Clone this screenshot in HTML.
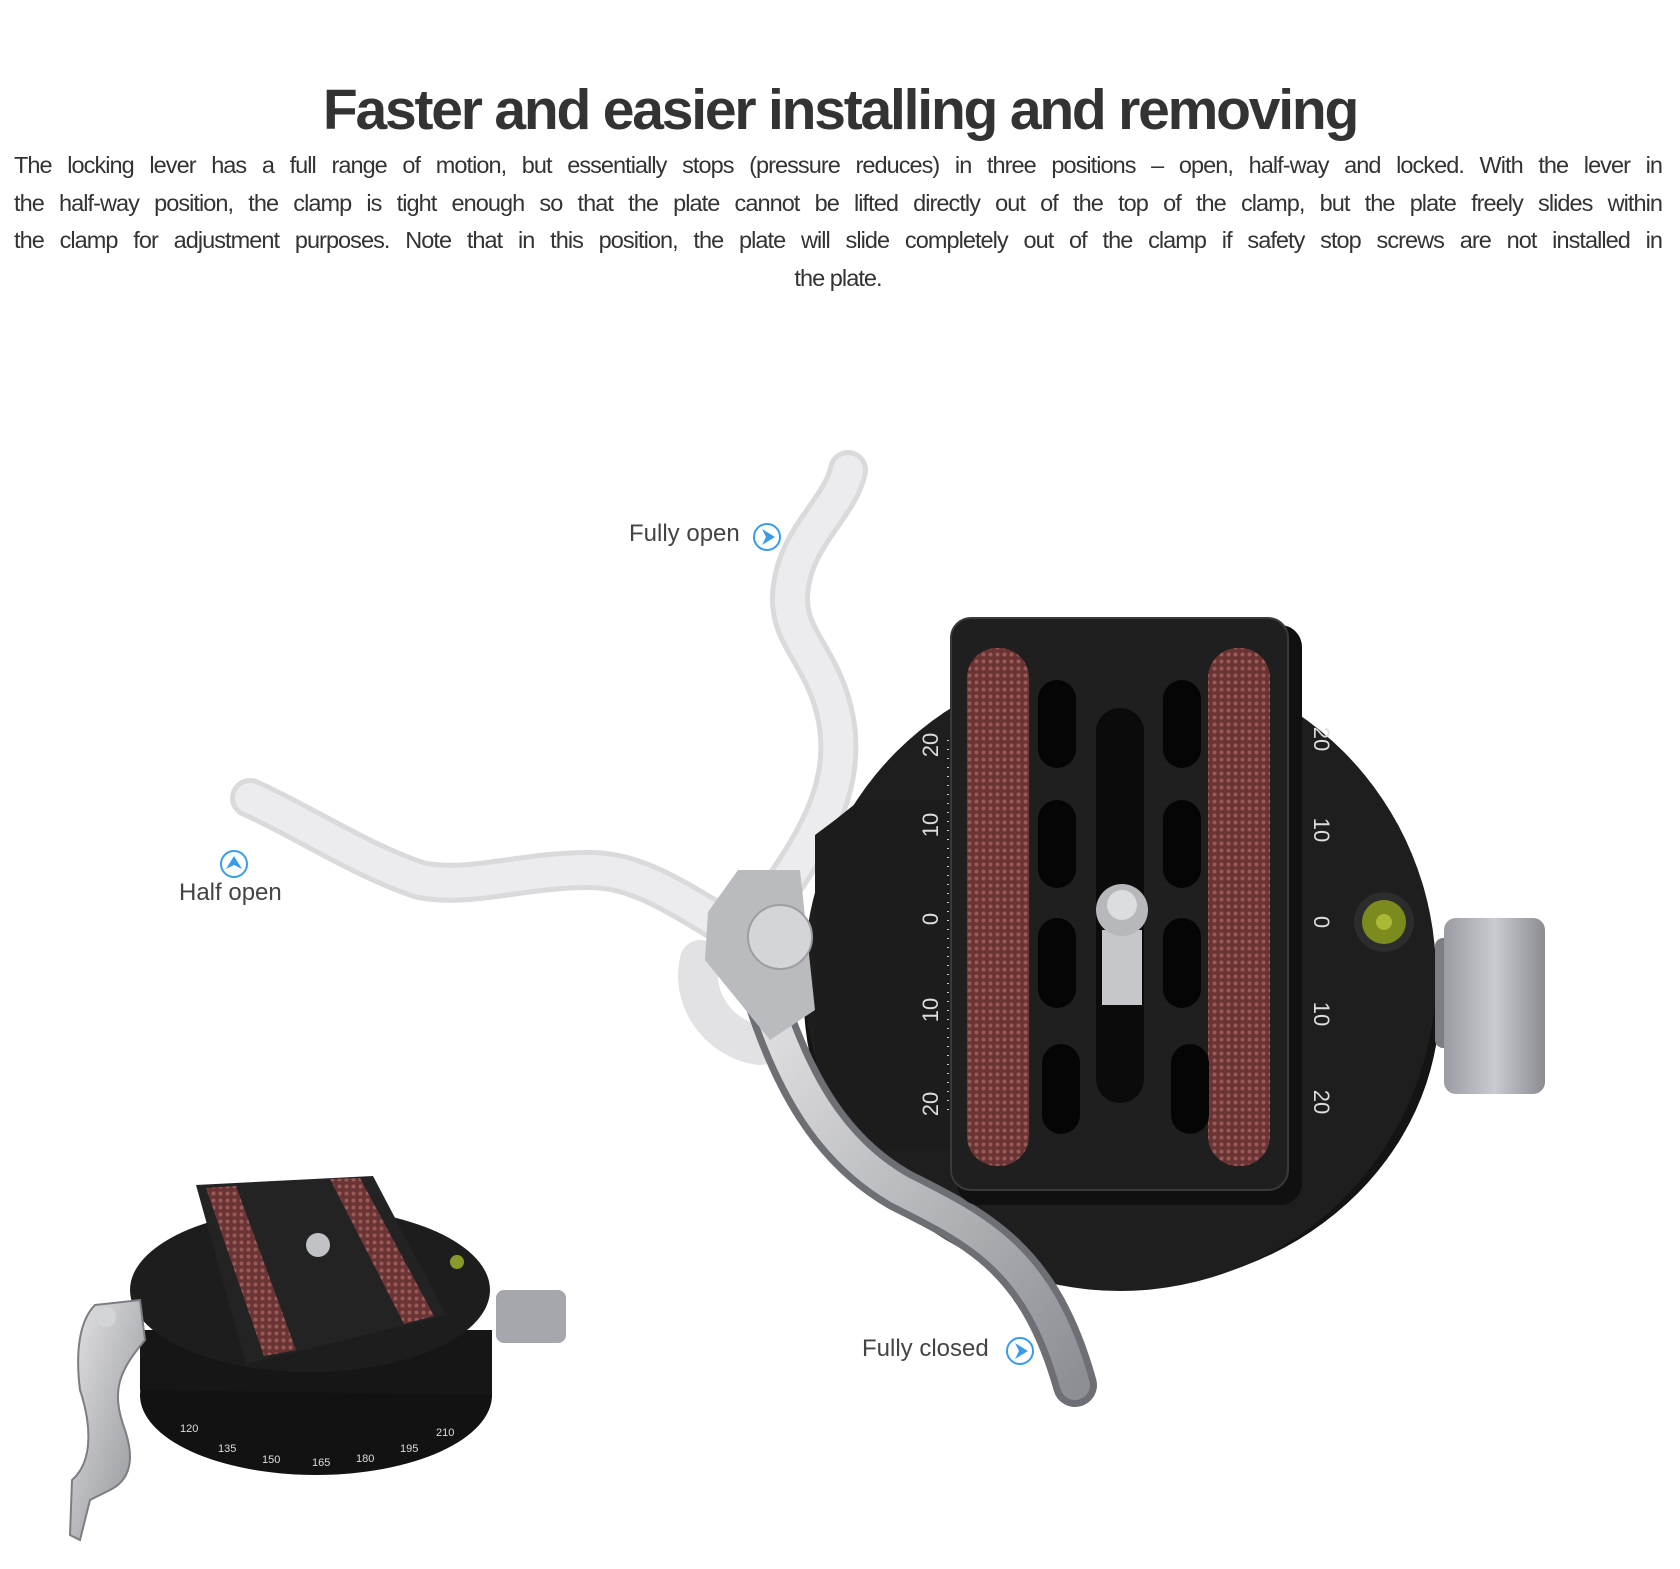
<!DOCTYPE html>
<html><head><meta charset="utf-8">
<style>
html,body{margin:0;padding:0;background:#fff;}
body{width:1680px;height:1569px;position:relative;overflow:hidden;font-family:"Liberation Sans",Arial,sans-serif;}
h1{position:absolute;left:0;width:1680px;top:77px;margin:0;text-align:center;font-size:57px;font-weight:bold;color:#333;letter-spacing:-2.2px;}
.p{position:absolute;left:14px;width:1648px;font-size:23.5px;color:#333;letter-spacing:-0.95px;text-align:justify;text-align-last:justify;line-height:28px}
.lab{position:absolute;font-size:24px;color:#444;}
</style></head><body>
<h1>Faster and easier installing and removing</h1>
<div class="p" style="top:151px">The locking lever has a full range of motion, but essentially stops (pressure reduces) in three positions – open, half-way and locked. With the lever in</div>
<div class="p" style="top:189px">the half-way position, the clamp is tight enough so that the plate cannot be lifted directly out of the top of the clamp, but the plate freely slides within</div>
<div class="p" style="top:226px">the clamp for adjustment purposes. Note that in this position, the plate will slide completely out of the clamp if safety stop screws are not installed in</div>
<div class="p" style="top:264px;text-align:center;text-align-last:center">the plate.</div>

<div class="lab" style="left:629px;top:520px">Fully open</div>
<div class="lab" style="left:179px;top:879px">Half open</div>
<div class="lab" style="left:862px;top:1335px">Fully closed</div>

<svg width="1680" height="1569" style="position:absolute;left:0;top:0" viewBox="0 0 1680 1569">
<defs>
<pattern id="kn" width="7" height="7" patternUnits="userSpaceOnUse"><rect width="7" height="7" fill="#6a3434"/><circle cx="3.5" cy="3.5" r="2" fill="#9a5a58"/></pattern>
<linearGradient id="sil" x1="0" y1="0" x2="1" y2="1"><stop offset="0" stop-color="#e4e4e6"/><stop offset="1" stop-color="#8d8f94"/></linearGradient>
<linearGradient id="knob" x1="0" y1="0" x2="1" y2="0"><stop offset="0" stop-color="#9a9ca2"/><stop offset=".5" stop-color="#c9cbd0"/><stop offset="1" stop-color="#8a8c92"/></linearGradient>
</defs>
<g fill="none" stroke="#3a9be8" stroke-width="2">
<circle cx="767" cy="537" r="13"/><circle cx="234" cy="864" r="13"/><circle cx="1020" cy="1351" r="13"/></g>
<g fill="#3a9be8">
<path d="M762 529 L775 537 L762 545 L766 537Z"/><path d="M1015 1343 L1028 1351 L1015 1359 L1019 1351Z"/><path d="M226 869 L234 856 L242 869 L234 865Z"/></g>

<g fill="none" stroke-linecap="round" stroke-linejoin="round">
<path d="M752 930 C800 860 850 800 836 720 C825 660 790 640 790 600 C790 540 840 510 848 470" stroke="#d9dadc" stroke-width="40"/>
<path d="M752 930 C800 860 850 800 836 720 C825 660 790 640 790 600 C790 540 840 510 848 470" stroke="#ececee" stroke-width="30"/>
<path d="M740 935 C680 900 640 870 590 870 C520 870 470 890 420 880 C360 860 300 820 250 798" stroke="#d9dadc" stroke-width="40"/>
<path d="M740 935 C680 900 640 870 590 870 C520 870 470 890 420 880 C360 860 300 820 250 798" stroke="#ececee" stroke-width="30"/>
<path d="M700 960 C690 1000 720 1040 760 1045" stroke="#e2e2e4" stroke-width="40"/>
</g>

<ellipse cx="1122" cy="1000" rx="318" ry="288" fill="#141414"/>
<circle cx="1120" cy="975" r="316" fill="#1e1e1f"/>
<path d="M815 835 L835 820 L860 800 L960 800 L960 1150 L860 1150 Q820 1100 815 1050Z" fill="#1c1c1d"/>
<path d="M760 980 C790 1080 830 1150 900 1190 C980 1230 1040 1260 1075 1385" fill="none" stroke="#6d6f74" stroke-width="44" stroke-linecap="round"/>
<path d="M760 980 C790 1080 830 1150 900 1190 C980 1230 1040 1260 1075 1385" fill="none" stroke="url(#sil)" stroke-width="30" stroke-linecap="round"/>
<path d="M708 912 L738 870 L800 870 L815 1010 L770 1040 L705 960Z" fill="#b9bbbf"/>
<circle cx="780" cy="937" r="32" fill="#d4d5d8" stroke="#9c9ea2" stroke-width="2"/>
<rect x="1435" y="938" width="20" height="110" rx="8" fill="#7c7e83"/>
<rect x="1444" y="918" width="101" height="176" rx="12" fill="url(#knob)"/>
<g fill="#ddd" font-size="22" font-family="Liberation Sans,sans-serif">
<text transform="translate(938 745) rotate(-90)" text-anchor="middle">20</text>
<text transform="translate(938 825) rotate(-90)" text-anchor="middle">10</text>
<text transform="translate(938 919) rotate(-90)" text-anchor="middle">0</text>
<text transform="translate(938 1010) rotate(-90)" text-anchor="middle">10</text>
<text transform="translate(938 1104) rotate(-90)" text-anchor="middle">20</text>
<text transform="translate(1314 739) rotate(90)" text-anchor="middle">20</text>
<text transform="translate(1314 830) rotate(90)" text-anchor="middle">10</text>
<text transform="translate(1314 922) rotate(90)" text-anchor="middle">0</text>
<text transform="translate(1314 1014) rotate(90)" text-anchor="middle">10</text>
<text transform="translate(1314 1102) rotate(90)" text-anchor="middle">20</text>
</g>
<line x1="948" y1="740" x2="948" y2="1110" stroke="#ccc" stroke-width="2" stroke-dasharray="1 8"/>
<line x1="1296" y1="735" x2="1296" y2="1105" stroke="#ccc" stroke-width="2" stroke-dasharray="1 8"/>
<circle cx="1384" cy="922" r="30" fill="#2c2c2c"/><circle cx="1384" cy="922" r="22" fill="#7c8a1e"/><circle cx="1384" cy="922" r="8" fill="#a9b835"/>
<rect x="957" y="625" width="345" height="580" rx="22" fill="#101010"/>
<rect x="951" y="618" width="337" height="572" rx="20" fill="#1f1f20" stroke="#3a3a3b" stroke-width="2"/>
<rect x="967" y="648" width="62" height="518" rx="30" fill="url(#kn)"/>
<rect x="1208" y="648" width="62" height="518" rx="30" fill="url(#kn)"/>
<g fill="#050505">
<rect x="1038" y="680" width="38" height="88" rx="19"/><rect x="1163" y="680" width="38" height="88" rx="19"/>
<rect x="1038" y="800" width="38" height="88" rx="19"/><rect x="1163" y="800" width="38" height="88" rx="19"/>
<rect x="1038" y="918" width="38" height="90" rx="19"/><rect x="1163" y="918" width="38" height="90" rx="19"/>
<rect x="1042" y="1044" width="38" height="90" rx="19"/><rect x="1171" y="1044" width="38" height="90" rx="19"/>
<rect x="1096" y="708" width="48" height="395" rx="24" fill="#0b0b0b"/>
</g>
<rect x="1102" y="930" width="40" height="75" fill="#c5c7cb"/>
<circle cx="1122" cy="910" r="26" fill="#b6b8bc"/><circle cx="1122" cy="905" r="15" fill="#dcdde0"/>

<ellipse cx="316" cy="1395" rx="176" ry="80" fill="#121212"/>
<path d="M140 1390 L140 1330 L492 1330 L492 1395Z" fill="#161616"/>
<ellipse cx="310" cy="1290" rx="180" ry="82" fill="#1d1d1e"/>
<rect x="496" y="1290" width="70" height="53" rx="8" fill="#a5a7ac"/>
<path d="M196 1185 L373 1176 L446 1315 L246 1364Z" fill="#232324"/>
<path d="M206 1188 L236 1186 L296 1350 L264 1356Z" fill="url(#kn)"/>
<path d="M330 1179 L360 1178 L434 1316 L404 1324Z" fill="url(#kn)"/>
<circle cx="318" cy="1245" r="12" fill="#c0c2c6"/>
<circle cx="457" cy="1262" r="7" fill="#8a9a2a"/>
<path d="M95 1305 L140 1300 L145 1340 C120 1370 110 1390 125 1430 C135 1460 130 1480 110 1490 L90 1500 L80 1540 L70 1535 L72 1480 C95 1460 90 1420 80 1390 C75 1350 80 1320 95 1305Z" fill="url(#sil)" stroke="#7c7e83" stroke-width="2"/>
<circle cx="106" cy="1317" r="10" fill="#d4d5d8"/>
<g fill="#ddd" font-size="11" font-family="Liberation Sans,sans-serif">
<text x="180" y="1432">120</text><text x="218" y="1452">135</text><text x="262" y="1463">150</text><text x="312" y="1466">165</text><text x="356" y="1462">180</text><text x="400" y="1452">195</text><text x="436" y="1436">210</text>
</g>
</svg>
</body></html>
